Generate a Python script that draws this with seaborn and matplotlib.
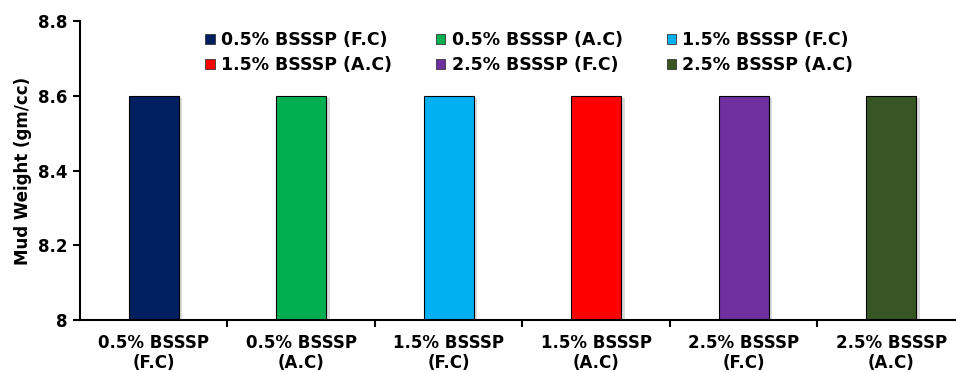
import matplotlib
matplotlib.use("Agg")
import matplotlib.pyplot as plt
import matplotlib.patheffects as pe
from matplotlib.patches import Patch
from matplotlib.ticker import FixedLocator, NullFormatter
import seaborn as sns
import pandas as pd

categories = ["0.5% BSSSP (F.C)", "0.5% BSSSP (A.C)", "1.5% BSSSP (F.C)",
              "1.5% BSSSP (A.C)", "2.5% BSSSP (F.C)", "2.5% BSSSP (A.C)"]
tick_labels = ["0.5% BSSSP\n(F.C)", "0.5% BSSSP\n(A.C)", "1.5% BSSSP\n(F.C)",
               "1.5% BSSSP\n(A.C)", "2.5% BSSSP\n(F.C)", "2.5% BSSSP\n(A.C)"]
mud_weight = [8.6, 8.6, 8.6, 8.6, 8.6, 8.6]
colors = ["#002060", "#00B050", "#00B0F0", "#FF0000", "#7030A0", "#375623"]

sns.set_style("white")
plt.rcParams["font.family"] = ["DejaVu Sans"]
plt.rcParams["font.weight"] = "bold"
plt.rcParams["text.color"] = "black"
plt.rcParams["axes.labelcolor"] = "black"
plt.rcParams["xtick.color"] = "black"
plt.rcParams["ytick.color"] = "black"

df = pd.DataFrame({"Mix": categories, "Mud Weight": mud_weight})

fig = plt.figure(figsize=(9.56, 3.72), dpi=100)
ax = fig.add_axes([80 / 956, 1 - 320 / 372, 1 - 80 / 956, (320 - 21) / 372])

sns.barplot(data=df, x="Mix", y="Mud Weight", hue="Mix", palette=colors,
            saturation=1, dodge=False, width=0.34, edgecolor="black",
            linewidth=0.8, legend=False, ax=ax)

for patch in ax.patches:
    patch.set_path_effects([pe.SimplePatchShadow(offset=(2.5, -1.5), shadow_rgbFace="#888888", alpha=0.3),
                            pe.Normal()])

ax.set_ylim(8.0, 8.8)
ax.set_xlim(-0.5, 5.44)
ax.set_yticks([8.0, 8.2, 8.4, 8.6, 8.8])
ax.set_yticklabels(["8", "8.2", "8.4", "8.6", "8.8"], fontsize=12, fontweight="bold")
ax.set_xticks(range(len(categories)))
ax.set_xticklabels(tick_labels, fontsize=12, fontweight="bold", linespacing=1.15)
ax.tick_params(axis="x", which="major", length=0, pad=10)
ax.xaxis.set_minor_locator(FixedLocator([0.5, 1.5, 2.5, 3.5, 4.5]))
ax.xaxis.set_minor_formatter(NullFormatter())
ax.tick_params(axis="x", which="minor", length=5, width=1.5, color="black", direction="out", bottom=True)
ax.tick_params(axis="y", length=5, width=1.5, color="black", direction="out", left=True, pad=4)

ax.set_xlabel("")
ax.set_ylabel("Mud Weight (gm/cc)", fontsize=12, fontweight="bold", labelpad=4)

for side in ["top", "right"]:
    ax.spines[side].set_visible(False)
for side in ["left", "bottom"]:
    ax.spines[side].set_color("black")
    ax.spines[side].set_linewidth(1.5)

# legend filled row by row: three entries per row
order = [0, 3, 1, 4, 2, 5]
handles = [Patch(facecolor=colors[i], edgecolor="#333333", linewidth=0.6) for i in order]
labels = [categories[i] for i in order]
leg = ax.legend(handles, labels, ncol=3, loc="upper left",
                bbox_to_anchor=(205 / 956, 1 - 31 / 372), bbox_transform=fig.transFigure,
                frameon=False, borderpad=0, borderaxespad=0,
                prop={"weight": "bold", "size": 12.5}, handlelength=0.55, handleheight=0.55,
                handletextpad=0.35, columnspacing=2.55, labelspacing=0.4)

fig.savefig("out.png", dpi=100)
